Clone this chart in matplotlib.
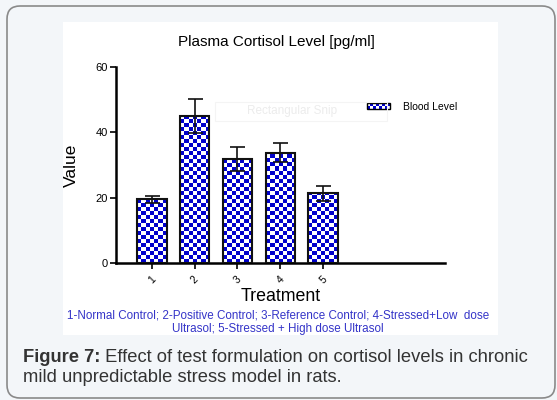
import numpy as np
import matplotlib
matplotlib.use("Agg")
import matplotlib.pyplot as plt
from matplotlib.colors import ListedColormap
from matplotlib.patches import FancyBboxPatch, Rectangle, Patch
from matplotlib.transforms import IdentityTransform
from matplotlib.legend_handler import HandlerBase

plt.rcParams['font.family'] = ['Liberation Sans', 'DejaVu Sans']

# ---- data ----
treatments = ["1", "2", "3", "4", "5"]
cortisol = [19.5, 45.0, 31.8, 33.8, 21.3]
cortisol_err = [1.0, 5.1, 3.6, 3.0, 2.3]
series_name = "Blood Level"
title = "Plasma Cortisol Level [pg/ml]"
xlabel = "Treatment"
ylabel = "Value"
footnote = ["1-Normal Control; 2-Positive Control; 3-Reference Control; 4-Stressed+Low  dose",
            "Ultrasol; 5-Stressed + High dose Ultrasol"]
caption_bold = "Figure 7:"
caption_rest1 = " Effect of test formulation on cortisol levels in chronic"
caption_rest2 = "mild unpredictable stress model in rats."
yticks = [0, 20, 40, 60]

W, H = 557, 400
fig = plt.figure(figsize=(W / 100, H / 100), dpi=100)
fig.patch.set_facecolor('#f3f6f9')

def px(x, y):
    return x / W, 1 - y / H

blue = '#0000cc'

# rounded outer border
border = FancyBboxPatch((7, 2), 548, 392, boxstyle="round,pad=0,rounding_size=13",
                        transform=IdentityTransform(), facecolor='#f3f6f9',
                        edgecolor='#8a8a8a', linewidth=1.2, zorder=-2)
fig.patches.append(border)
# white panel
x0, y0 = px(63, 335)
x1, y1 = px(498, 22)
fig.patches.append(Rectangle((x0, y0), x1 - x0, y1 - y0, transform=fig.transFigure,
                             facecolor='white', edgecolor='none', zorder=-1))

# axes
ax_l, ax_b = px(116, 263)
ax_r, ax_t = px(445, 67)
ax = fig.add_axes([ax_l, ax_b, ax_r - ax_l, ax_t - ax_b])
ax.set_facecolor('none')
pos = np.arange(1, len(treatments) + 1)
bw = 0.68
ax.set_xlim(0.158, 7.854)
ax.set_ylim(0, 60)

bars = ax.bar(pos, cortisol, width=bw, facecolor='none', edgecolor='#111111',
              linewidth=1.5, zorder=3, label=series_name)

# checkerboard texture clipped to each bar
cmap = ListedColormap(['white', blue])
fig.canvas.draw()
p0 = ax.transData.transform((0, 0))
p1 = ax.transData.transform((1, 1))
ux = p1[0] - p0[0]
uy = p1[1] - p0[1]
cell = 4.0
for b in bars:
    bx, by = b.get_x(), b.get_y()
    w, h = b.get_width(), b.get_height()
    nx = max(1, int(round(w * ux / cell)))
    ny = max(1, int(np.ceil(h * uy / cell)))
    grid = (np.add.outer(np.arange(ny), np.arange(nx)) % 2).astype(float)
    im = ax.imshow(grid, cmap=cmap, vmin=0, vmax=1, origin='lower',
                   extent=(bx, bx + w, by, by + ny * cell / uy),
                   interpolation='nearest', aspect='auto', zorder=2)
    im.set_clip_path(Rectangle((bx, by), w, h, transform=ax.transData))

ax.set_xlim(0.158, 7.854)
ax.set_ylim(0, 60)

ax.errorbar(pos, cortisol, yerr=cortisol_err, fmt='none', ecolor='#111111',
            elinewidth=1.2, capsize=5.4, capthick=1.2, zorder=4)

for s in ['top', 'right']:
    ax.spines[s].set_visible(False)
for s in ['left', 'bottom']:
    ax.spines[s].set_linewidth(1.8)
ax.set_xticks(pos)
ax.set_xticklabels(treatments, rotation=45, fontsize=7.5)
ax.set_yticks(yticks)
ax.set_yticklabels([str(v) for v in yticks], fontsize=8)
ax.tick_params(axis='both', direction='out', length=4, width=1.2, pad=2)
ax.tick_params(axis='x', pad=4)

ax.set_xlabel(xlabel, fontsize=12.8, labelpad=2)
ax.set_ylabel(ylabel, fontsize=12.5, labelpad=12)


class CheckerHandler(HandlerBase):
    def create_artists(self, legend, orig_handle, xdescent, ydescent, width, height,
                       fontsize, trans):
        arts = []
        ncol, nrow = 8, 2
        cw, ch = width / ncol, height / nrow
        for i in range(nrow):
            for j in range(ncol):
                c = blue if (i + j) % 2 == 0 else 'white'
                arts.append(Rectangle((-xdescent + j * cw, -ydescent + i * ch), cw, ch,
                                      facecolor=c, edgecolor='none', transform=trans))
        arts.append(Rectangle((-xdescent, -ydescent), width, height, facecolor='none',
                              edgecolor='black', linewidth=1.0, transform=trans))
        return arts


leg_handle = Patch(facecolor=blue, edgecolor='black')
leg = ax.legend(handles=[leg_handle], labels=[series_name], loc='upper left',
                bbox_to_anchor=(0.733, 0.87), frameon=False, fontsize=7.5,
                handlelength=2.3, handleheight=0.55, handletextpad=1.2,
                handler_map={Patch: CheckerHandler()})

# faint snip watermark
wx0, wy0 = px(215, 121)
wx1, wy1 = px(387, 102)
fig.patches.append(Rectangle((wx0, wy0), wx1 - wx0, wy1 - wy0, transform=fig.transFigure,
                             facecolor='none', edgecolor='#f4f4f4', linewidth=0.8, zorder=1))
fig.text(*px(247, 111), "Rectangular Snip", fontsize=8.5, color='#ececec',
         va='center', ha='left')

# title
fig.text(*px(276, 42), title, fontsize=11, ha='center', va='center', color='black')

# footnote
fig.text(*px(278, 315), footnote[0], fontsize=8.4, ha='center', va='center', color='#3434c8')
fig.text(*px(278, 329), footnote[1], fontsize=8.4, ha='center', va='center', color='#3434c8')

# caption
r = fig.canvas.get_renderer()
tb = fig.text(*px(23, 357), caption_bold, fontsize=13.2, fontweight='bold',
              ha='left', va='center', color='#333333')
bb = tb.get_window_extent(renderer=r)
fig.text(bb.x1 / W, 1 - 357 / H, caption_rest1, fontsize=13.2, ha='left', va='center',
         color='#333333')
fig.text(*px(23, 377), caption_rest2, fontsize=13.2, ha='left', va='center', color='#333333')

fig.savefig("out.png", dpi=100, facecolor=fig.get_facecolor())
